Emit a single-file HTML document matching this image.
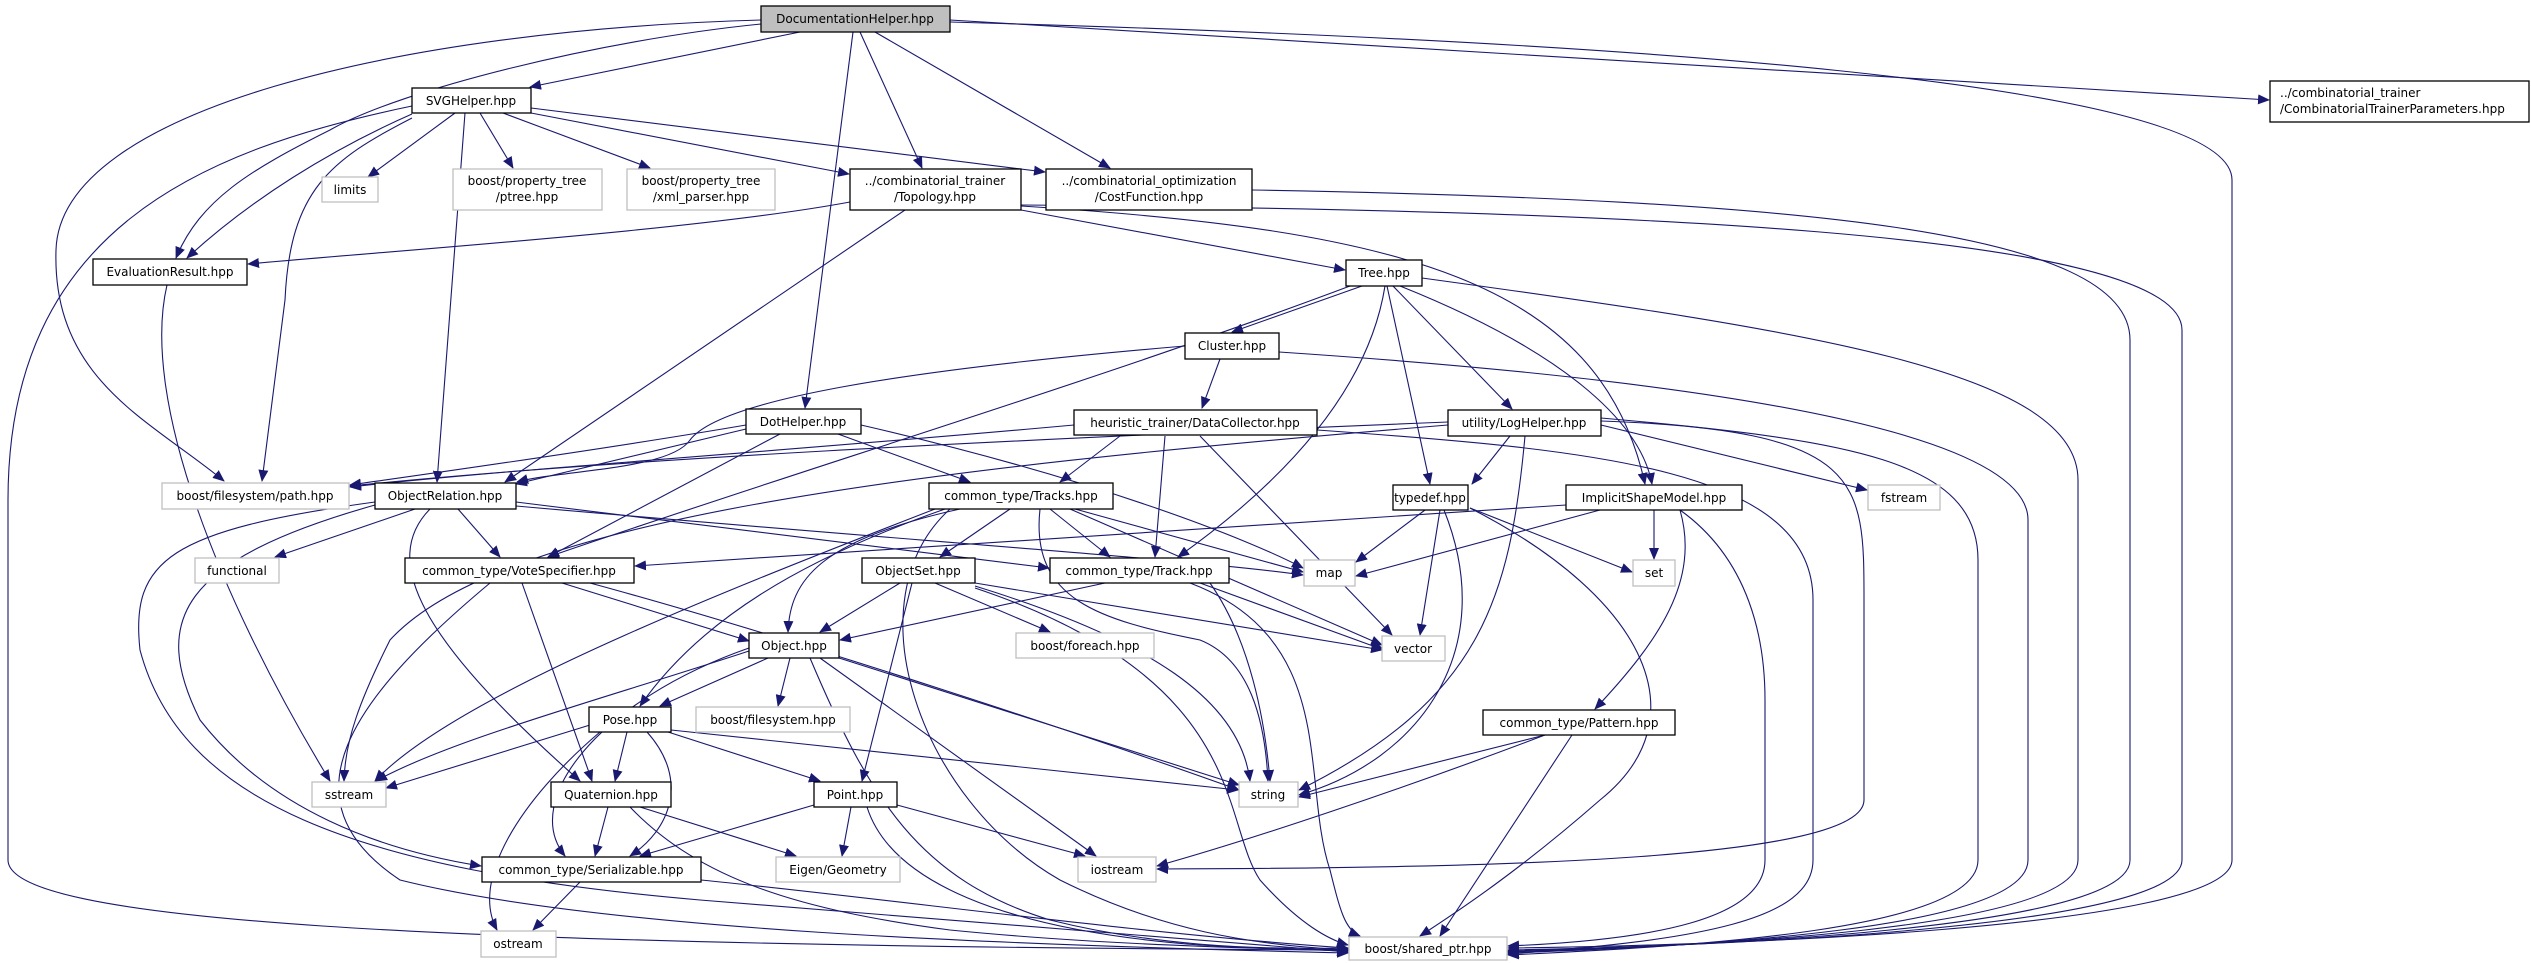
<!DOCTYPE html>
<html><head><meta charset="utf-8"><style>
html,body{margin:0;padding:0;background:#fff;}
svg{display:block;}
text{font-family:"DejaVu Sans","Liberation Sans",sans-serif;font-size:12px;fill:#000;}
.b{fill:#fff;stroke:#000;stroke-width:1.3;}
.g{fill:#fff;stroke:#bfbfbf;stroke-width:1.3;}
path{fill:none;stroke:#191970;stroke-width:1.1;}
</style></head><body>
<svg width="2531" height="963" viewBox="0 0 2531 963" xmlns="http://www.w3.org/2000/svg">
<defs><marker id="a" markerUnits="userSpaceOnUse" markerWidth="12" markerHeight="10" refX="11" refY="5" orient="auto"><polygon points="0,0 12,5 0,10" fill="#191970"/></marker></defs>
<g marker-end="url(#a)">
<!-- DocumentationHelper -->
<path d="M800 32 L530 87"/>
<path d="M761 24 C600 40 400 90 330 130 C250 170 200 200 176 258"/>
<path d="M761 20 C400 30 60 110 56 250 C52 380 150 420 224 481"/>
<path d="M853 32 L805 408"/>
<path d="M860 32 L922 168"/>
<path d="M875 32 L1110 168"/>
<path d="M950 20 L2269 100"/>
<path d="M950 22 C1600 40 2232 80 2232 180 L2232 860 C2232 930 1700 946 1508 948"/>
<!-- SVGHelper -->
<path d="M455 113 L368 177"/>
<path d="M480 113 L513 168"/>
<path d="M503 113 L650 168"/>
<path d="M531 113 L849 174"/>
<path d="M531 108 L1045 172"/>
<path d="M412 114 C330 150 250 200 187 258"/>
<path d="M412 118 C330 160 290 190 285 300 L262 481"/>
<path d="M465 113 L437 482"/>
<path d="M412 106 C200 150 8 230 8 500 L8 860 C8 920 400 946 1348 950"/>
<!-- Topology -->
<path d="M850 202 C700 230 400 250 248 264"/>
<path d="M905 210 L505 482"/>
<path d="M1021 210 L1345 270"/>
<path d="M1021 206 C1400 230 1600 280 1645 484"/>
<path d="M1021 205 C1600 210 2182 230 2182 330 L2182 860 C2182 930 1700 946 1508 950"/>
<!-- CostFunction -->
<path d="M1252 190 C1800 200 2130 230 2130 340 L2130 860 C2130 930 1700 946 1508 951"/>
<!-- Tree -->
<path d="M1362 286 L1232 332"/>
<path d="M1350 286 C1100 380 800 470 548 557"/>
<path d="M1385 286 C1370 380 1300 470 1178 557"/>
<path d="M1387 286 L1430 484"/>
<path d="M1393 286 L1512 409"/>
<path d="M1400 286 C1560 350 1640 420 1652 484"/>
<path d="M1422 278 C1800 330 2078 370 2078 480 L2078 860 C2078 930 1700 946 1508 952"/>
<!-- Cluster -->
<path d="M1185 346 C900 370 720 400 690 440 C670 470 560 470 517 482"/>
<path d="M1220 359 L1202 408"/>
<path d="M1279 352 C1700 380 2028 430 2028 520 L2028 860 C2028 930 1700 946 1508 953"/>
<!-- DataCollector -->
<path d="M1120 436 L1060 482"/>
<path d="M1165 436 L1155 557"/>
<path d="M1200 436 L1392 635"/>
<path d="M1317 430 C1600 450 1813 470 1813 600 L1813 860 C1813 920 1700 940 1508 954"/>
<path d="M1074 425 C800 450 500 470 350 487"/>
<!-- LogHelper -->
<path d="M1510 436 L1472 484"/>
<path d="M1601 425 L1867 490"/>
<path d="M1525 436 C1510 600 1480 700 1299 790"/>
<path d="M1601 421 C1864 430 1864 480 1864 600 L1864 800 C1864 860 1500 868 1157 869"/>
<path d="M1601 418 C1850 440 1978 460 1978 560 L1978 860 C1978 930 1700 946 1508 955"/>
<path d="M1448 422 C1000 440 600 460 350 486"/>
<path d="M1448 425 C900 470 500 520 390 640 C360 700 345 740 344 781"/>
<!-- typedef -->
<path d="M1425 510 L1356 562"/>
<path d="M1440 510 L1420 635"/>
<path d="M1470 508 L1632 572"/>
<path d="M1444 510 C1500 650 1420 760 1299 795"/>
<path d="M1470 508 C1650 600 1700 720 1600 800 C1520 870 1460 910 1420 936"/>
<!-- ImplicitShapeModel -->
<path d="M1654 510 L1654 559"/>
<path d="M1600 510 L1356 576"/>
<path d="M1566 505 C1200 530 900 550 635 566"/>
<path d="M1680 510 C1700 580 1660 640 1595 709"/>
<path d="M1680 510 C1750 560 1765 640 1765 700 L1765 860 C1765 920 1650 940 1508 946"/>
<!-- Pattern -->
<path d="M1545 735 L1299 797"/>
<path d="M1545 735 C1400 790 1250 840 1157 866"/>
<path d="M1572 735 L1440 936"/>
<!-- DotHelper -->
<path d="M746 425 C600 450 420 475 350 485"/>
<path d="M746 429 L516 484"/>
<path d="M780 434 L548 557"/>
<path d="M838 434 L970 482"/>
<path d="M861 425 C1100 480 1250 540 1303 568"/>
<!-- ObjectRelation -->
<path d="M415 509 L275 557"/>
<path d="M458 509 L500 557"/>
<path d="M516 502 L1049 568"/>
<path d="M516 506 C900 540 1200 560 1303 575"/>
<path d="M430 509 C380 560 420 640 580 781"/>
<path d="M375 505 C180 560 150 620 200 720 C270 810 380 850 481 866"/>
<path d="M375 502 C170 530 130 560 140 650 C180 800 350 870 700 900 C1000 925 1200 940 1348 952"/>
<!-- EvaluationResult -->
<path d="M167 285 C140 400 220 600 330 781"/>
<!-- VoteSpecifier -->
<path d="M562 583 L749 641"/>
<path d="M522 583 L592 781"/>
<path d="M590 583 C800 640 1100 740 1239 790"/>
<path d="M490 583 C350 700 280 800 400 880 C600 930 1000 945 1348 953"/>
<!-- Tracks -->
<path d="M1010 509 L940 557"/>
<path d="M1050 509 L1110 557"/>
<path d="M960 509 C820 540 790 580 788 632"/>
<path d="M945 509 C800 560 700 620 640 706"/>
<path d="M935 509 C700 600 450 700 375 781"/>
<path d="M1075 509 L1303 572"/>
<path d="M1070 509 L1382 645"/>
<path d="M1040 509 C1030 600 1100 620 1200 640 C1250 660 1265 720 1268 781"/>
<path d="M950 509 C850 600 920 800 1060 880 C1160 930 1250 945 1348 950"/>
<!-- ObjectSet -->
<path d="M900 583 L820 632"/>
<path d="M935 583 L1050 632"/>
<path d="M912 583 L862 781"/>
<path d="M975 583 L1382 650"/>
<path d="M975 586 C1150 640 1240 700 1250 781"/>
<path d="M975 588 C1250 680 1220 820 1260 880 C1300 925 1330 940 1348 945"/>
<!-- Track -->
<path d="M1105 583 L840 640"/>
<path d="M1200 583 L1384 650"/>
<path d="M1210 583 C1250 640 1265 720 1270 781"/>
<path d="M1190 583 C1340 640 1300 780 1330 870 C1340 910 1345 930 1360 936"/>
<!-- Object -->
<path d="M768 658 L660 706"/>
<path d="M790 658 L778 706"/>
<path d="M749 651 C600 700 450 740 376 781"/>
<path d="M749 648 C600 700 520 800 565 856"/>
<path d="M839 658 L1239 785"/>
<path d="M820 658 L1096 856"/>
<path d="M810 658 C870 800 920 880 1050 920 C1150 945 1250 950 1348 948"/>
<!-- Pose -->
<path d="M590 725 L386 788"/>
<path d="M627 732 L615 781"/>
<path d="M668 732 L820 781"/>
<path d="M671 730 L1238 790"/>
<path d="M647 732 C690 780 670 830 630 856"/>
<path d="M600 732 C520 800 470 880 497 930"/>
<!-- Quaternion -->
<path d="M608 807 L595 856"/>
<path d="M640 807 L796 856"/>
<path d="M630 807 C700 880 800 910 950 930 C1100 945 1250 948 1348 951"/>
<!-- Point -->
<path d="M814 805 L640 856"/>
<path d="M851 807 L842 856"/>
<path d="M897 805 L1085 856"/>
<path d="M867 807 C890 880 1000 930 1200 945 C1280 950 1320 950 1348 949"/>
<!-- Serializable -->
<path d="M580 882 L533 930"/>
<path d="M701 880 C900 900 1150 935 1348 948"/>
</g>
<!-- nodes -->
<rect x="761" y="6" width="189" height="26" fill="#bfbfbf" stroke="#000" stroke-width="1.3"/><text x="855" y="23" text-anchor="middle">DocumentationHelper.hpp</text>
<rect class="b" x="412" y="88" width="119" height="25"/><text x="471" y="105" text-anchor="middle">SVGHelper.hpp</text>
<rect class="g" x="322" y="177" width="56" height="25"/><text x="350" y="194" text-anchor="middle">limits</text>
<rect class="g" x="453" y="169" width="149" height="41"/><text x="527" y="185" text-anchor="middle">boost/property_tree</text><text x="527" y="201" text-anchor="middle">/ptree.hpp</text>
<rect class="g" x="627" y="169" width="148" height="41"/><text x="701" y="185" text-anchor="middle">boost/property_tree</text><text x="701" y="201" text-anchor="middle">/xml_parser.hpp</text>
<rect class="b" x="850" y="169" width="171" height="41"/><text x="935" y="185" text-anchor="middle">../combinatorial_trainer</text><text x="935" y="201" text-anchor="middle">/Topology.hpp</text>
<rect class="b" x="1046" y="169" width="206" height="41"/><text x="1149" y="185" text-anchor="middle">../combinatorial_optimization</text><text x="1149" y="201" text-anchor="middle">/CostFunction.hpp</text>
<rect class="b" x="2270" y="81" width="259" height="41"/><text x="2280" y="97">../combinatorial_trainer</text><text x="2280" y="113">/CombinatorialTrainerParameters.hpp</text>
<rect class="b" x="93" y="259" width="154" height="26"/><text x="170" y="276" text-anchor="middle">EvaluationResult.hpp</text>
<rect class="b" x="1346" y="260" width="76" height="26"/><text x="1384" y="277" text-anchor="middle">Tree.hpp</text>
<rect class="b" x="1185" y="333" width="94" height="26"/><text x="1232" y="350" text-anchor="middle">Cluster.hpp</text>
<rect class="b" x="746" y="409" width="115" height="25"/><text x="803" y="426" text-anchor="middle">DotHelper.hpp</text>
<rect class="b" x="1074" y="410" width="243" height="25"/><text x="1195" y="427" text-anchor="middle">heuristic_trainer/DataCollector.hpp</text>
<rect class="b" x="1448" y="410" width="153" height="26"/><text x="1524" y="427" text-anchor="middle">utility/LogHelper.hpp</text>
<rect class="g" x="162" y="483" width="187" height="26"/><text x="255" y="500" text-anchor="middle">boost/filesystem/path.hpp</text>
<rect class="b" x="375" y="483" width="141" height="26"/><text x="445" y="500" text-anchor="middle">ObjectRelation.hpp</text>
<rect class="b" x="929" y="483" width="184" height="26"/><text x="1021" y="500" text-anchor="middle">common_type/Tracks.hpp</text>
<rect class="b" x="1393" y="485" width="75" height="25"/><text x="1430" y="502" text-anchor="middle">typedef.hpp</text>
<rect class="b" x="1566" y="485" width="176" height="25"/><text x="1654" y="502" text-anchor="middle">ImplicitShapeModel.hpp</text>
<rect class="g" x="1868" y="485" width="72" height="25"/><text x="1904" y="502" text-anchor="middle">fstream</text>
<rect class="g" x="195" y="558" width="84" height="25"/><text x="237" y="575" text-anchor="middle">functional</text>
<rect class="b" x="405" y="558" width="229" height="25"/><text x="519" y="575" text-anchor="middle">common_type/VoteSpecifier.hpp</text>
<rect class="b" x="862" y="558" width="113" height="25"/><text x="918" y="575" text-anchor="middle">ObjectSet.hpp</text>
<rect class="b" x="1050" y="558" width="179" height="25"/><text x="1139" y="575" text-anchor="middle">common_type/Track.hpp</text>
<rect class="g" x="1304" y="560" width="51" height="26"/><text x="1329" y="577" text-anchor="middle">map</text>
<rect class="g" x="1633" y="560" width="42" height="26"/><text x="1654" y="577" text-anchor="middle">set</text>
<rect class="b" x="749" y="633" width="90" height="25"/><text x="794" y="650" text-anchor="middle">Object.hpp</text>
<rect class="g" x="1016" y="633" width="138" height="25"/><text x="1085" y="650" text-anchor="middle">boost/foreach.hpp</text>
<rect class="g" x="1382" y="636" width="63" height="25"/><text x="1413" y="653" text-anchor="middle">vector</text>
<rect class="b" x="589" y="707" width="82" height="25"/><text x="630" y="724" text-anchor="middle">Pose.hpp</text>
<rect class="g" x="696" y="707" width="154" height="25"/><text x="773" y="724" text-anchor="middle">boost/filesystem.hpp</text>
<rect class="b" x="1483" y="710" width="192" height="25"/><text x="1579" y="727" text-anchor="middle">common_type/Pattern.hpp</text>
<rect class="g" x="312" y="782" width="74" height="25"/><text x="349" y="799" text-anchor="middle">sstream</text>
<rect class="b" x="551" y="782" width="120" height="25"/><text x="611" y="799" text-anchor="middle">Quaternion.hpp</text>
<rect class="b" x="814" y="782" width="83" height="25"/><text x="855" y="799" text-anchor="middle">Point.hpp</text>
<rect class="g" x="1239" y="782" width="59" height="25"/><text x="1268" y="799" text-anchor="middle">string</text>
<rect class="b" x="482" y="857" width="219" height="25"/><text x="591" y="874" text-anchor="middle">common_type/Serializable.hpp</text>
<rect class="g" x="776" y="857" width="124" height="25"/><text x="838" y="874" text-anchor="middle">Eigen/Geometry</text>
<rect class="g" x="1078" y="857" width="78" height="25"/><text x="1117" y="874" text-anchor="middle">iostream</text>
<rect class="g" x="481" y="931" width="75" height="26"/><text x="518" y="948" text-anchor="middle">ostream</text>
<rect class="g" x="1349" y="937" width="158" height="23"/><text x="1428" y="953" text-anchor="middle">boost/shared_ptr.hpp</text>
</svg>
</body></html>
